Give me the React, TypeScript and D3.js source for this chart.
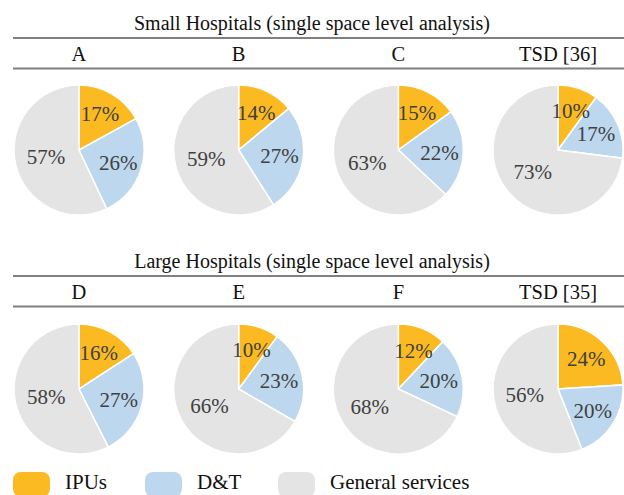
import * as d3 from "d3";

// categories and values
const segments = ["IPUs", "D&T", "General services"];
const colors = ["#FBBA22", "#BDD7EE", "#E4E4E4"];

const smallNames = ["A", "B", "C", "TSD [36]"];
const smallIPU = [17, 14, 15, 10];
const smallDT = [26, 27, 22, 17];
const smallGen = [57, 59, 63, 73];

const largeNames = ["D", "E", "F", "TSD [35]"];
const largeIPU = [16, 10, 12, 24];
const largeDT = [27, 23, 20, 20];
const largeGen = [58, 66, 68, 56];

const width = 624;
const height = 495;
const radius = 65;
const font = "Liberation Serif, DejaVu Serif, Times New Roman, serif";

const color = d3.scaleOrdinal<string, string>().domain(segments).range(colors);
const xPos = d3.scalePoint<string>().domain(["0", "1", "2", "3"]).range([79, 558]);

const pie = d3.pie<number>().sort(null).value(d => d);
const arc = d3.arc<d3.PieArcDatum<number>>().innerRadius(0).outerRadius(radius);
// general services labels sit nearer the centre
const labelArc = (i: number) =>
  d3.arc<d3.PieArcDatum<number>>().innerRadius(0).outerRadius(i === 2 ? radius * 1.04 : radius * 1.27);

type Row = {
  title: string;
  names: string[];
  ipu: number[];
  dt: number[];
  gen: number[];
  top: number; // baseline of title
  cy: number;
};

const rows: Row[] = [
  {title: "Small Hospitals (single space level analysis)", names: smallNames, ipu: smallIPU, dt: smallDT, gen: smallGen, top: 30, cy: 150},
  {title: "Large Hospitals (single space level analysis)", names: largeNames, ipu: largeIPU, dt: largeDT, gen: largeGen, top: 268, cy: 389},
];

const PieRow = ({row}: {row: Row}) => (
  <g>
    <text x={width / 2} y={row.top} textAnchor="middle" fontSize={20} fill="#111">{row.title}</text>
    <line x1={13} x2={width} y1={row.top + 8} y2={row.top + 8} stroke="#7f7f7f" strokeWidth={2}/>
    {row.names.map((n, i) => (
      <text key={n} x={xPos(String(i))} y={row.top + 31} textAnchor="middle" fontSize={20.5} fill="#111">{n}</text>
    ))}
    <line x1={13} x2={width} y1={row.top + 38.5} y2={row.top + 38.5} stroke="#7f7f7f" strokeWidth={2}/>
    {row.names.map((n, i) => {
      const vals = [row.ipu[i], row.dt[i], row.gen[i]];
      const arcs = pie(vals);
      return (
        <g key={n} transform={`translate(${xPos(String(i))},${row.cy})`}>
          {arcs.map((a, j) => (
            <path key={j} d={arc(a) ?? ""} fill={color(segments[j])} stroke="#fff" strokeWidth={1.5}/>
          ))}
          {arcs.map((a, j) => {
            const [lx, ly] = labelArc(j).centroid(a);
            return (
              <text key={"t" + j} x={lx} y={ly} textAnchor="middle" dominantBaseline="central"
                    fontSize={21} fill="#404040">{vals[j]}%</text>
            );
          })}
        </g>
      );
    })}
  </g>
);

const legendX = [13, 145, 278];

const App = () => (
  <svg width={width} height={height} style={{position: "absolute", left: 0, top: 0, fontFamily: font}}>
    <rect width={width} height={height} fill="#fff"/>
    {rows.map(r => <PieRow key={r.title} row={r}/>)}
    {segments.map((s, i) => (
      <g key={s} transform={`translate(${legendX[i]},472)`}>
        <rect width={37} height={25} rx={8} fill={color(s)}/>
        <text x={52} y={17} fontSize={21} fill="#111">{s}</text>
      </g>
    ))}
  </svg>
);

export default App;
